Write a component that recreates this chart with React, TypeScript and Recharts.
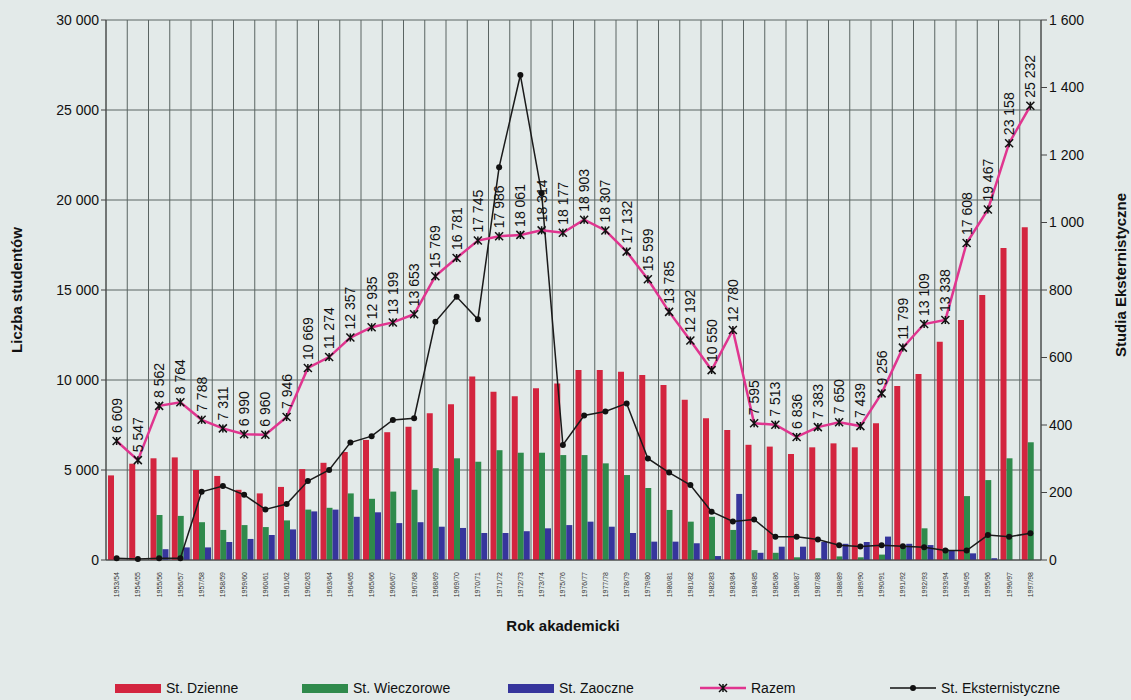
import { ComposedChart, Bar, Line, XAxis, YAxis, CartesianGrid, LabelList } from 'recharts';

const years = [
  '1953/54', '1954/55', '1955/56', '1956/57', '1957/58', '1958/59', '1959/60', '1960/61', '1961/62', '1962/63',
  '1963/64', '1964/65', '1965/66', '1966/67', '1967/68', '1968/69', '1969/70', '1970/71', '1971/72', '1972/73',
  '1973/74', '1975/76', '1976/77', '1977/78', '1978/79', '1979/80', '1980/81', '1981/82', '1982/83', '1983/84',
  '1984/85', '1985/86', '1986/87', '1987/88', '1988/89', '1989/90', '1990/91', '1991/92', '1992/93', '1993/94',
  '1994/95', '1995/96', '1996/97', '1997/98',
];

const dzienne = [
  4700, 5350, 5650, 5700, 5000, 4670, 3900, 3700, 4060, 5050,
  5400, 6000, 6670, 7100, 7400, 8150, 8650, 10200, 9350, 9100,
  9540, 9800, 10550, 10550, 10460, 10280, 9720, 8900, 7870, 7220,
  6400, 6300, 5890, 6260, 6480, 6260, 7600, 9670, 10330, 12130,
  13330, 14720, 17330, 18480,
];

const wieczorowe = [
  0, 0, 2500, 2450, 2100, 1670, 1940, 1830, 2200, 2800,
  2900, 3700, 3400, 3800, 3900, 5100, 5650, 5460, 6100, 5960,
  5960, 5830, 5830, 5370, 4720, 4000, 2780, 2130, 2400, 1670,
  550, 400, 150, 100, 200, 150, 300, 800, 1760, 600,
  3550, 4440, 5650, 6540,
];

const zaoczne = [
  0, 0, 600, 700, 700, 1000, 1170, 1390, 1700, 2700,
  2800, 2400, 2650, 2050, 2100, 1850, 1780, 1500, 1500, 1600,
  1760, 1940, 2130, 1850, 1500, 1020, 1020, 930, 220, 3670,
  400, 740, 740, 1000, 900, 1000, 1300, 900, 830, 550,
  370, 100, 0, 0,
];

const razem = [
  6609, 5547, 8562, 8764, 7788, 7311, 6990, 6960, 7946, 10669,
  11274, 12357, 12935, 13199, 13653, 15769, 16781, 17745, 17986, 18061,
  18314, 18177, 18903, 18307, 17132, 15599, 13785, 12192, 10550, 12780,
  7595, 7513, 6836, 7383, 7650, 7439, 9256, 11799, 13109, 13338,
  17608, 19467, 23158, 25232,
];

const eksternistyczne = [
  5, 3, 5, 5, 202, 219, 193, 150, 166, 234,
  267, 348, 367, 415, 420, 706, 780, 713, 1164, 1437,
  1087, 341, 428, 440, 464, 301, 259, 222, 143, 114,
  120, 69, 69, 61, 44, 40, 44, 41, 38, 28,
  28, 74, 69, 79,
];

const leftTicks = [0, 5000, 10000, 15000, 20000, 25000, 30000];
const rightTicks = [0, 200, 400, 600, 800, 1000, 1200, 1400, 1600];

const RED = '#d3253f';
const GREEN = '#2f8a4c';
const BLUE = '#36359c';
const PINK = '#e0358f';
const FONT = '"Liberation Sans", Arial, sans-serif';

const fmt = (v: number) => String(v).replace(/\B(?=(\d{3})+(?!\d))/g, ' ');

const data = years.map((rok, i) => ({
  rok,
  dzienne: dzienne[i],
  wieczorowe: wieczorowe[i],
  zaoczne: zaoczne[i],
  razem: razem[i],
  ekst: eksternistyczne[i],
}));

function CrossDot(props: any) {
  const { cx, cy } = props;
  if (cx == null || cy == null) return null;
  const s = 4;
  return (
    <path
      d={`M${cx - s},${cy - s}L${cx + s},${cy + s}M${cx - s},${cy + s}L${cx + s},${cy - s}M${cx},${cy - s}L${cx},${cy + s}`}
      stroke="#111"
      strokeWidth={1.5}
      fill="none"
    />
  );
}

function RazemLabel(props: any) {
  const { x, y, value } = props;
  const ty = y - 8;
  return (
    <text
      x={x}
      y={ty}
      transform={`rotate(-90 ${x} ${ty})`}
      textAnchor="start"
      dominantBaseline="central"
      fontSize={14}
      fontFamily={FONT}
      fill="#111"
    >
      {fmt(value)}
    </text>
  );
}

function YearTick(props: any) {
  const { x, y, payload } = props;
  return (
    <text
      x={x}
      y={y + 4}
      transform={`rotate(-90 ${x} ${y + 4})`}
      textAnchor="end"
      dominantBaseline="central"
      fontSize={7}
      fontFamily={FONT}
      fill="#333"
    >
      {payload.value}
    </text>
  );
}

const legendItems = [
  { label: 'St. Dzienne', kind: 'bar', color: RED, left: 115 },
  { label: 'St. Wieczorowe', kind: 'bar', color: GREEN, left: 302 },
  { label: 'St. Zaoczne', kind: 'bar', color: BLUE, left: 508 },
  { label: 'Razem', kind: 'cross', color: PINK, left: 700 },
  { label: 'St. Eksternistyczne', kind: 'dot', color: '#111', left: 890 },
];

function LegendSwatch({ kind, color }: { kind: string; color: string }) {
  if (kind === 'bar') {
    return (
      <svg width={46} height={12}>
        <rect x={0} y={2} width={46} height={9} fill={color} />
      </svg>
    );
  }
  return (
    <svg width={46} height={12}>
      <line x1={0} y1={6} x2={46} y2={6} stroke={color} strokeWidth={kind === 'cross' ? 2.5 : 1.5} />
      {kind === 'cross' ? (
        <path d="M19,2L27,10M19,10L27,2M23,2L23,10" stroke="#111" strokeWidth={1.5} />
      ) : (
        <circle cx={23} cy={6} r={3} fill="#111" />
      )}
    </svg>
  );
}

export default function App() {
  const n = data.length;
  return (
    <div
      style={{
        position: 'absolute',
        left: 0,
        top: 0,
        width: 1131,
        height: 700,
        background: '#e3eae9',
        fontFamily: FONT,
        overflow: 'hidden',
      }}
    >
      <ComposedChart
        width={1131}
        height={700}
        data={data}
        margin={{ top: 20, right: 30, left: 0, bottom: 90 }}
        barGap={0}
        barCategoryGap={2}
      >
        <CartesianGrid
          yAxisId="left"
          stroke="#5a6462"
          strokeWidth={1}
          verticalCoordinatesGenerator={({ offset }: any) =>
            Array.from({ length: n + 1 }, (_, i) => offset.left + (i * offset.width) / n)
          }
        />
        <XAxis
          dataKey="rok"
          interval={0}
          tick={<YearTick />}
          tickLine={false}
          height={50}
          axisLine={{ stroke: '#444' }}
        />
        <YAxis
          yAxisId="left"
          domain={[0, 30000]}
          ticks={leftTicks}
          tickFormatter={fmt}
          width={106}
          tick={{ fontSize: 14, fill: '#111', fontFamily: FONT }}
          axisLine={{ stroke: '#444' }}
          tickLine={{ stroke: '#444' }}
          tickSize={5}
        />
        <YAxis
          yAxisId="right"
          orientation="right"
          domain={[0, 1600]}
          ticks={rightTicks}
          tickFormatter={fmt}
          width={60}
          tick={{ fontSize: 14, fill: '#111', fontFamily: FONT }}
          axisLine={{ stroke: '#444' }}
          tickLine={{ stroke: '#444' }}
          tickSize={6}
        />
        <Bar yAxisId="left" dataKey="dzienne" fill={RED} barSize={6} isAnimationActive={false} />
        <Bar yAxisId="left" dataKey="wieczorowe" fill={GREEN} barSize={6} isAnimationActive={false} />
        <Bar yAxisId="left" dataKey="zaoczne" fill={BLUE} barSize={6} isAnimationActive={false} />
        <Line
          yAxisId="right"
          dataKey="ekst"
          stroke="#1a1a1a"
          strokeWidth={1.5}
          dot={{ r: 3, fill: '#111', stroke: '#111', strokeWidth: 0 }}
          isAnimationActive={false}
        />
        <Line
          yAxisId="left"
          dataKey="razem"
          stroke={PINK}
          strokeWidth={2.5}
          dot={<CrossDot />}
          isAnimationActive={false}
        >
          <LabelList dataKey="razem" content={<RazemLabel />} />
        </Line>
      </ComposedChart>

      <div
        style={{
          position: 'absolute',
          left: 16,
          top: 290,
          transform: 'translate(-50%, -50%) rotate(-90deg)',
          whiteSpace: 'nowrap',
          fontSize: 15,
          fontWeight: 'bold',
          color: '#111',
        }}
      >
        Liczba studentów
      </div>
      <div
        style={{
          position: 'absolute',
          left: 1120,
          top: 275,
          transform: 'translate(-50%, -50%) rotate(-90deg)',
          whiteSpace: 'nowrap',
          fontSize: 15,
          fontWeight: 'bold',
          color: '#111',
        }}
      >
        Studia Eksternistyczne
      </div>
      <div
        style={{
          position: 'absolute',
          left: 563,
          top: 625,
          transform: 'translate(-50%, -50%)',
          whiteSpace: 'nowrap',
          fontSize: 15,
          fontWeight: 'bold',
          color: '#111',
        }}
      >
        Rok akademicki
      </div>

      {legendItems.map((it) => (
        <div
          key={it.label}
          style={{
            position: 'absolute',
            left: it.left,
            top: 680,
            display: 'flex',
            alignItems: 'center',
            gap: 5,
            fontSize: 14,
            color: '#111',
            whiteSpace: 'nowrap',
          }}
        >
          <LegendSwatch kind={it.kind} color={it.color} />
          <span>{it.label}</span>
        </div>
      ))}
    </div>
  );
}
